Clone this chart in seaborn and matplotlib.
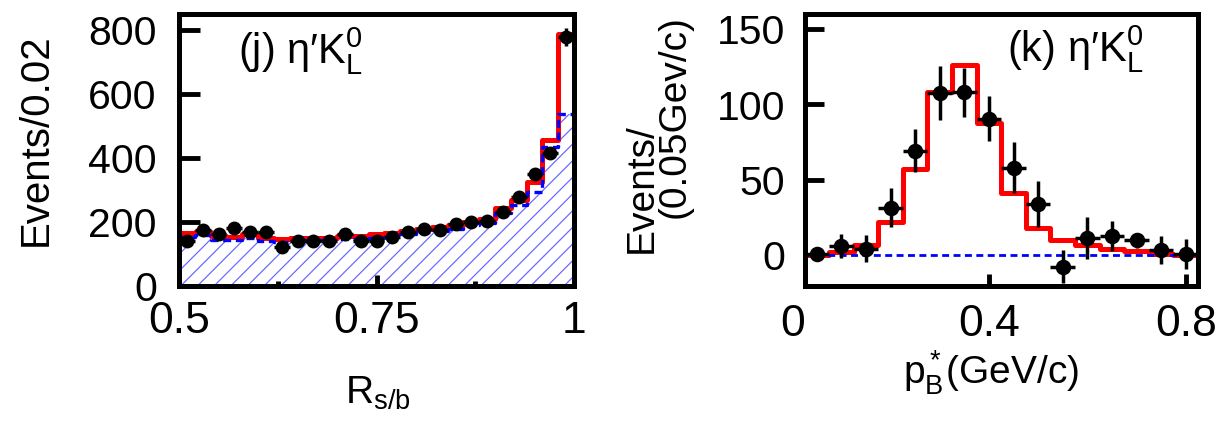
import numpy as np
import pandas as pd
import matplotlib
matplotlib.use("Agg")
import matplotlib.pyplot as plt
import matplotlib.transforms as mtransforms
import seaborn as sns

# ---------------- data: panel (j)  R_s/b, bins of 0.02 ----------------
rsb_edges = [round(v, 2) for v in np.arange(0.50, 1.0001, 0.02)]
rsb_centers = [round(v + 0.01, 3) for v in rsb_edges[:-1]]
rsb_data = [138, 173, 162, 180, 167, 168, 122, 140, 139, 138, 161, 139, 139,
            152, 167, 176, 175, 191, 200, 202, 230, 276, 350, 415, 779]
rsb_err = [12, 13, 13, 13, 13, 13, 11, 12, 12, 12, 13, 12, 12,
           12, 13, 13, 13, 14, 14, 14, 15, 17, 19, 20, 28]
rsb_fit = [163, 167, 155, 151, 161, 148, 145, 148, 150, 150, 155, 155, 160,
           163, 170, 178, 182, 190, 200, 208, 242, 267, 324, 457, 787]
rsb_bkg = [153, 158, 143, 141, 150, 140, 137, 139, 141, 142, 146, 146, 150,
           153, 160, 167, 171, 178, 188, 196, 226, 252, 294, 434, 536]

# ---------------- data: panel (k)  p*_B, bins of 0.05 ----------------
pb_edges = [round(v, 3) for v in np.arange(0.025, 0.8251, 0.05)]
pb_centers = [round(v + 0.025, 3) for v in pb_edges[:-1]]
pb_data = [1, 6, 4.5, 31.5, 69.5, 107.5, 108, 90.5, 58, 34, -7.5, 11.5, 13, 10, 3.5, 1]
pb_err = [3, 8, 9, 13, 14, 18, 16, 15, 17, 15, 11, 14, 10, 5, 9, 10]
pb_fit = [0.5, 2.2, 6.6, 22, 57, 108, 126, 88, 41, 18, 10.4, 6.6, 4.4, 2.9, 1.1, 0.3]
pb_bkg = [0, 0, 0, 0, 0, 0, 0, 0, 0, 0, 0, 0, 0, 0, 0, 0]

dfL = pd.DataFrame({"x": rsb_centers, "data": rsb_data, "err": rsb_err,
                    "fit": rsb_fit, "bkg": rsb_bkg})
dfR = pd.DataFrame({"x": pb_centers, "data": pb_data, "err": pb_err,
                    "fit": pb_fit, "bkg": pb_bkg})

sns.set_theme(style="white")
plt.rcParams["font.family"] = ["Liberation Sans", "DejaVu Sans"]
plt.rcParams["mathtext.fontset"] = "custom"
plt.rcParams["mathtext.rm"] = "Liberation Sans"
plt.rcParams["mathtext.it"] = "Liberation Sans:italic"
plt.rcParams["mathtext.default"] = "regular"
plt.rcParams["hatch.linewidth"] = 0.9
plt.rcParams["axes.facecolor"] = "white"
for key in ("text.color", "axes.labelcolor", "xtick.color", "ytick.color",
            "axes.edgecolor"):
    plt.rcParams[key] = "black"

W, H = 1223, 423
fig = plt.figure(figsize=(W / 100, H / 100), dpi=100)
axL = fig.add_axes([179 / W, 1 - 285.5 / H, 395 / W, 271.5 / H])
axR = fig.add_axes([804.5 / W, 1 - 285.5 / H, 393.5 / W, 271.5 / H])

RED = "#ff0000"
BLUE = "#0000ff"
HATCH = "#6b6bff"

# ---------------- left panel ----------------
sns.histplot(data=dfL, x="x", weights="bkg", bins=rsb_edges, element="step",
             fill=True, color=HATCH, facecolor="none", edgecolor=HATCH,
             linewidth=0, hatch="//", ax=axL, zorder=1)
sns.histplot(data=dfL, x="x", weights="fit", bins=rsb_edges, element="step",
             fill=True, color=RED, facecolor="none", edgecolor=RED,
             linewidth=3.6, ax=axL, zorder=2)
sns.histplot(data=dfL, x="x", weights="bkg", bins=rsb_edges, element="step",
             fill=False, color=BLUE, linewidth=2.4, linestyle=(0, (2.4, 1.4)),
             ax=axL, zorder=3)
axL.errorbar(dfL["x"], dfL["data"], yerr=dfL["err"], xerr=0.01, fmt="none",
             ecolor="black", elinewidth=2.5, capsize=0, zorder=4)
sns.scatterplot(data=dfL, x="x", y="data", color="black", s=100,
                edgecolor="black", linewidth=0, ax=axL, zorder=5)

axL.set_xlim(0.5, 1.0)
axL.set_ylim(0, 850)
axL.set_xticks([0.5, 0.75, 1.0])
axL.set_xticklabels(["0.5", "0.75", "1"])
axL.set_xticks([0.625, 0.875], minor=True)
axL.set_yticks([0, 200, 400, 600, 800])
axL.tick_params(axis="y", which="major", direction="in", length=15, width=3.5,
                labelsize=29.5, pad=16, left=True, right=False, color="black",
                labelcolor="black")
axL.tick_params(axis="x", which="major", direction="in", length=8, width=3.5,
                labelsize=32, pad=11, bottom=True, top=False, color="black",
                labelcolor="black")
axL.tick_params(axis="x", which="minor", direction="in", length=3.5, width=3.5,
                bottom=True, color="black")
axL.set_xlabel(r"$\mathregular{R_{s/b}}$", fontsize=28, va="baseline",
               color="black")
axL.xaxis.set_label_coords(0.504, -0.434)
axL.set_ylabel("Events/0.02", fontsize=29, va="baseline", color="black")
axL.yaxis.set_label_coords(-0.335, 0.538)
axL.text(0.149, 0.8195, "(j) η′$\\mathregular{K_L^0}$", transform=axL.transAxes,
         fontsize=30, ha="left", va="baseline", color="black")

# ---------------- right panel ----------------
sns.histplot(data=dfR, x="x", weights="fit", bins=pb_edges, element="step",
             fill=False, color=RED, linewidth=3.6, ax=axR, zorder=2)
sns.histplot(data=dfR, x="x", weights="bkg", bins=pb_edges, element="step",
             fill=False, color=BLUE, linewidth=2.0, linestyle=(0, (2.5, 1.6)),
             ax=axR, zorder=3)
axR.errorbar(dfR["x"], dfR["data"], yerr=dfR["err"], xerr=0.025, fmt="none",
             ecolor="black", elinewidth=2.5, capsize=0, zorder=4)
sns.scatterplot(data=dfR, x="x", y="data", color="black", s=125,
                edgecolor="black", linewidth=0, ax=axR, zorder=5)

axR.set_xlim(0.025, 0.825)
axR.set_ylim(-20, 160)
axR.set_xticks([0.4, 0.8])
axR.set_xticklabels(["0.4", "0.8"])
axR.set_yticks([0, 50, 100, 150])
axR.tick_params(axis="y", which="major", direction="in", length=14, width=3.5,
                labelsize=29.5, pad=14, left=True, right=False, color="black",
                labelcolor="black")
axR.tick_params(axis="x", which="major", direction="in", length=9, width=3.5,
                labelsize=32, pad=13, bottom=True, top=False, color="black",
                labelcolor="black")
# the "0" of the momentum axis sits just left of the frame, as in the original
trans0 = mtransforms.blended_transform_factory(axR.transData, axR.transAxes) + \
    mtransforms.ScaledTranslation(0, -13 / 72, fig.dpi_scale_trans)
axR.text(0.0, 0.0, "0", transform=trans0, fontsize=32, ha="center", va="top",
         clip_on=False, color="black")
axR.set_xlabel(r"$\mathregular{p_B^*}$(GeV/c)", fontsize=28, va="baseline",
               color="black")
axR.xaxis.set_label_coords(0.475, -0.366)
axR.set_ylabel("")
axR.text(-0.3875, 0.357, "Events/", transform=axR.transAxes, rotation=90,
         rotation_mode="anchor", ha="center", va="baseline", fontsize=28,
         color="black")
axR.text(-0.3037, 0.622, "(0.05Gev/c)", transform=axR.transAxes, rotation=90,
         rotation_mode="anchor", ha="center", va="baseline", fontsize=28,
         color="black")
axR.text(0.514, 0.824, "(k) η′$\\mathregular{K_L^0}$", transform=axR.transAxes,
         fontsize=30, ha="left", va="baseline", color="black")

for ax in (axL, axR):
    for sp in ax.spines.values():
        sp.set_visible(True)
        sp.set_linewidth(3.6)
        sp.set_color("black")
        sp.set_zorder(6)
    ax.grid(False)

fig.savefig("out.png", dpi=100, facecolor="white")
